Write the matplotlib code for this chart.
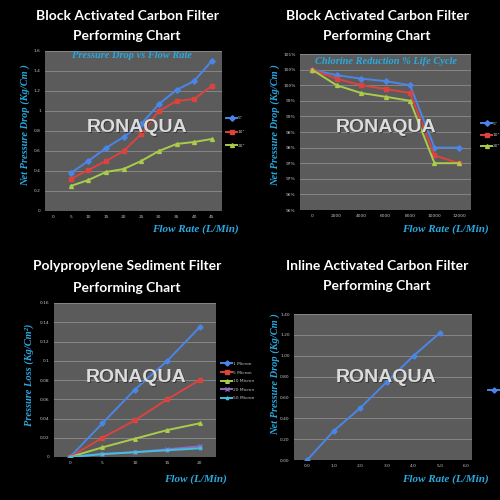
import matplotlib
matplotlib.use("Agg")
import matplotlib.pyplot as plt
import math

# ---------------- data ----------------
# Panel 1: Block Activated Carbon Filter - pressure drop vs flow rate
p1_x_ticks = [0, 5, 10, 15, 20, 25, 30, 35, 40, 45]
p1_flow = [5, 10, 15, 20, 25, 30, 35, 40, 45]
p1_names = ['5"', '10"', '20"']
p1_s5 = [0.38, 0.50, 0.63, 0.74, 0.87, 1.07, 1.21, 1.30, 1.50]
p1_s10 = [0.32, 0.41, 0.50, 0.60, 0.77, 1.00, 1.10, 1.12, 1.25]
p1_s20 = [0.25, 0.31, 0.39, 0.42, 0.50, 0.60, 0.67, 0.69, 0.72]

# Panel 2: Chlorine reduction % life cycle
p2_x = [0, 2000, 4000, 6000, 8000, 10000, 12000]
p2_names = ['5"', '10"', '20"']
p2_s5 = [100.0, 99.82, 99.71, 99.63, 99.50, 97.50, 97.50]
p2_s10 = [100.0, 99.71, 99.50, 99.38, 99.25, 97.25, 97.00]
p2_s20 = [100.0, 99.50, 99.25, 99.13, 99.00, 97.00, 97.00]

# Panel 3: Polypropylene sediment filter
p3_x = [0, 5, 10, 15, 20]
p3_names = ["1 Micron", "5 Micron", "10 Micron", "20 Micron", "50 Micron"]
p3_1 = [0.0, 0.035, 0.070, 0.100, 0.135]
p3_5 = [0.0, 0.020, 0.038, 0.060, 0.080]
p3_10 = [0.0, 0.010, 0.019, 0.028, 0.035]
p3_20 = [0.0, 0.003, 0.005, 0.008, 0.011]
p3_50 = [0.0, 0.003, 0.005, 0.007, 0.009]

# Panel 4: Inline activated carbon filter
p4_x_ticks = [0, 1, 2, 3, 4, 5, 6]
p4_x = [0, 1, 2, 3, 4, 5]
p4_y = [0.0, 0.28, 0.50, 0.75, 1.00, 1.22]

# ---------------- style ----------------
BLUE = "#4a86e8"
RED = "#dc433f"
GREEN = "#a9cc4a"
PURPLE = "#8b6cc4"
CYAN = "#43bde0"
LABEL_C = "#2aa9e0"
BG = "#5b5b5b"
GRID = "#868686"
TICK_C = "#c4c4c4"

W = H = 500
fig = plt.figure(figsize=(5, 5), dpi=100, facecolor="black")


def add_ax(l, t, r, b):
    ax = fig.add_axes([l / W, 1 - b / H, (r - l) / W, (b - t) / H])
    ax.set_facecolor(BG)
    for s in ax.spines.values():
        s.set_visible(False)
    ax.grid(axis="y", color=GRID, lw=0.7)
    ax.set_axisbelow(True)
    ax.tick_params(colors=TICK_C, labelsize=3.2, length=0, pad=3)
    return ax


def ftext(x, y, s, **kw):
    fig.text(x / W, 1 - y / H, s, **kw)


def title(cx, y1, y2, l1, l2):
    for y, s in ((y1, l1), (y2, l2)):
        ftext(cx, y, s, ha="center", va="center", color="white",
              fontsize=10, fontweight="bold", family="Lato")


def axlabel(x, y, s, rot=0, size=8):
    ftext(x, y, s, ha="center", va="center", color=LABEL_C, fontsize=size,
          fontweight="bold", style="italic", family="Liberation Serif",
          rotation=rot)


def watermark(cx, cy):
    ftext(cx + 0.8, cy + 0.8, "RONAQUA", ha="center", va="center",
          color="#222222", fontsize=14, fontweight="bold",
          family="Liberation Sans", alpha=0.6, zorder=9)
    ftext(cx, cy, "RONAQUA", ha="center", va="center", color="#dcdcdc",
          fontsize=14, fontweight="bold", family="Liberation Sans", zorder=10)


def legend(ax, handles, labels, x, y, spacing=1.4):
    lg = ax.legend(handles, labels, loc="center left",
                   bbox_to_anchor=(x / W, 1 - y / H),
                   bbox_transform=fig.transFigure, frameon=False,
                   fontsize=3.2, labelcolor=TICK_C, handlelength=2.4,
                   handletextpad=0.2, labelspacing=spacing, borderpad=0)
    return lg


# ---------------- panel 1 ----------------
title(127, 16, 36, "Block Activated Carbon Filter", "Performing Chart")
ax1 = add_ax(45, 51, 222, 211)
h = []
for ys, c, m in ((p1_s5, BLUE, "D"), (p1_s10, RED, "s"), (p1_s20, GREEN, "^")):
    ln, = ax1.plot(p1_flow, ys, color=c, lw=1.4, marker=m, ms=2.8,
                   mec=c, mfc=c)
    h.append(ln)
ax1.set_xlim(-2.3, 47.9)
ax1.set_ylim(0, 1.6)
ax1.set_xticks(p1_x_ticks)
ax1.set_xticklabels([str(v) for v in p1_x_ticks])
yt = [i * 0.2 for i in range(9)]
ax1.set_yticks(yt)
ax1.set_yticklabels([("%g" % round(v, 1)) for v in yt])
legend(ax1, h, p1_names, 224, 132, spacing=2.2)
ftext(132, 55, "Pressure Drop vs Flow Rate", ha="center", va="center",
      color=LABEL_C, fontsize=7.5, fontweight="bold", style="italic",
      family="Liberation Serif")
axlabel(25, 125, "Net Pressure Drop (Kg/Cm )", rot=90, size=7.5)
axlabel(195, 229, "Flow Rate (L/Min)", size=8)
watermark(137, 128)

# ---------------- panel 2 ----------------
title(377, 16, 36, "Block Activated Carbon Filter", "Performing Chart")
ax2 = add_ax(300, 54, 471, 210)
h = []
for ys, c, m in ((p2_s5, BLUE, "D"), (p2_s10, RED, "s"), (p2_s20, GREEN, "^")):
    ln, = ax2.plot(p2_x, ys, color=c, lw=1.4, marker=m, ms=2.8,
                   mec=c, mfc=c)
    h.append(ln)
ax2.set_xlim(-980, 12980)
ax2.set_ylim(95.5, 100.5)
ax2.set_xticks(p2_x)
ax2.set_xticklabels([str(v) for v in p2_x])
yt2 = [95.5 + 0.5 * i for i in range(11)]
ax2.set_yticks(yt2)
ax2.set_yticklabels(["%d%%" % math.floor(v + 0.5) for v in yt2])
legend(ax2, h, p2_names, 479, 135, spacing=1.6)
ftext(386, 61, "Chlorine Reduction % Life Cycle", ha="center", va="center",
      color=LABEL_C, fontsize=7.5, fontweight="bold", style="italic",
      family="Liberation Serif")
axlabel(275, 125, "Net Pressure Drop (Kg/Cm )", rot=90, size=7.5)
axlabel(445, 229, "Flow Rate (L/Min)", size=8)
watermark(386, 128)

# ---------------- panel 3 ----------------
title(127, 266, 288, "Polypropylene Sediment Filter", "Performing Chart")
ax3 = add_ax(54, 303, 216, 457)
h = []
for ys, c, m in ((p3_1, BLUE, "D"), (p3_5, RED, "s"), (p3_10, GREEN, "^"),
                 (p3_20, PURPLE, "x"), (p3_50, CYAN, "*")):
    ln, = ax3.plot(p3_x, ys, color=c, lw=1.4, marker=m, ms=2.6,
                   mec=c, mfc=c)
    h.append(ln)
ax3.set_xlim(-2.46, 22.5)
ax3.set_ylim(0, 0.16)
ax3.set_xticks(p3_x)
ax3.set_xticklabels([str(v) for v in p3_x])
yt3 = [0.02 * i for i in range(9)]
ax3.set_yticks(yt3)
ax3.set_yticklabels([("%g" % round(v, 2)) for v in yt3])
legend(ax3, h, p3_names, 219, 381, spacing=1.0)
axlabel(29, 375, "Pressure Loss (Kg/Cm²)", rot=90, size=7.5)
axlabel(195, 479, "Flow (L/Min)", size=8)
watermark(136, 378)

# ---------------- panel 4 ----------------
title(377, 266, 286, "Inline Activated Carbon Filter", "Performing Chart")
ax4 = add_ax(294, 314, 472, 460)
ln, = ax4.plot(p4_x, p4_y, color=BLUE, lw=1.4, marker="D", ms=2.6,
               mec=BLUE, mfc=BLUE)
ax4.set_xlim(-0.5, 6.2)
ax4.set_ylim(0, 1.4)
ax4.set_xticks(p4_x_ticks)
ax4.set_xticklabels(["%.1f" % v for v in p4_x_ticks])
yt4 = [0.2 * i for i in range(8)]
ax4.set_yticks(yt4)
ax4.set_yticklabels(["%.2f" % v for v in yt4])
legend(ax4, [ln], [" "], 486, 390)
axlabel(275, 374, "Net Pressure Drop (Kg/Cm )", rot=90, size=7.5)
axlabel(445, 479, "Flow Rate (L/Min)", size=8)
watermark(386, 378)

fig.savefig("out.png", dpi=100, facecolor="black")
